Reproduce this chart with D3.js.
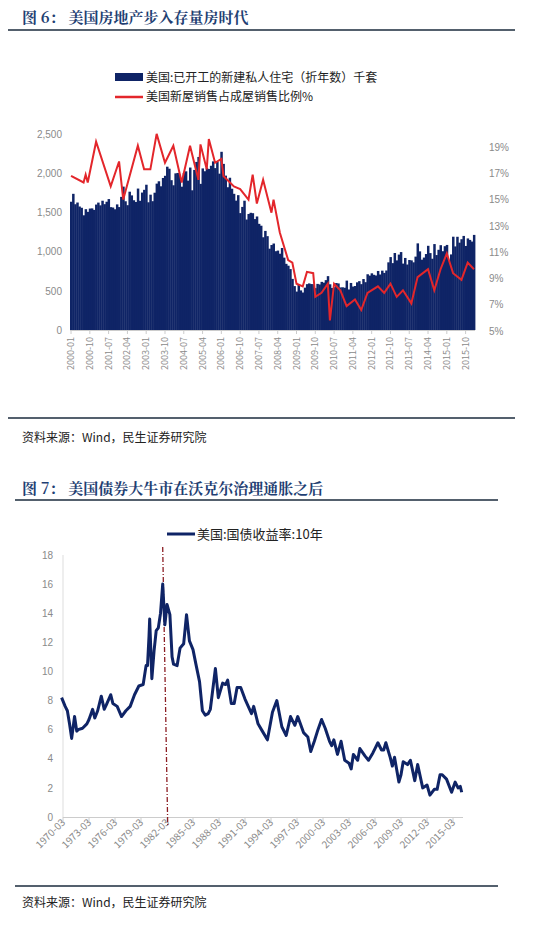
<!DOCTYPE html>
<html><head><meta charset="utf-8">
<script src="https://cdn.jsdelivr.net/npm/d3@7"></script>
<style>
body{margin:0;background:#fff;font-family:"Noto Sans CJK SC","Noto Sans",sans-serif;}
</style></head><body>
<svg id="c" width="533" height="927"></svg>
<script>
// housing starts, thousands, monthly from 2000-01
var startsYears = [2000,2001,2002,2003,2004,2005,2006,2007,2008,2009,2010,2011,2012,2013,2014,2015,2016];
var starts = [
  [1636,1737,1604,1626,1575,1559,1463,1541,1507,1549,1551,1532],
  [1600,1625,1590,1649,1605,1636,1670,1567,1562,1540,1602,1568],
  [1698,1829,1642,1592,1764,1717,1655,1633,1804,1648,1753,1788],
  [1853,1629,1726,1643,1751,1867,1897,1833,1939,1967,2083,2057],
  [1911,1846,1998,2003,1981,1828,2002,2024,1905,2072,1782,2042],
  [2144,2207,1864,2061,2025,2068,2054,2095,2151,2065,2147,1994],
  [2273,2119,1969,1821,1942,1802,1737,1650,1720,1491,1570,1649],
  [1409,1480,1495,1490,1415,1448,1354,1330,1183,1264,1197,1037],
  [1084,1103,1005,1013,973,1046,923,844,820,777,652,560],
  [490,582,505,478,540,585,594,586,585,534,588,581],
  [614,604,636,687,583,536,546,599,594,543,545,539],
  [630,517,600,554,561,608,623,585,650,610,711,694],
  [723,704,695,753,708,757,728,759,863,930,853,982],
  [888,962,994,847,919,835,893,888,863,936,1105,1003],
  [897,924,969,1074,981,909,1096,956,1023,1082,1005,1069],
  [1085,893,964,1190,1066,1189,1114,1158,1200,1072,1168,1149],
  [1128,1213]
];
// new home sales share, % (month index from 2000-01, value)
var shareMonths = [0,6,7,8,12,19,23,25,32,35,38,41,45,49,53,57,61,62,65,66,69,72,73,78,81,85,87,89,92,96,97,100,104,106,108,111,113,116,117,120,123,124,126,129,132,136,139,142,147,150,153,156,159,163,166,171,174,177,180,183,187,190,193];
var shareVals = [16.8,16.3,16.9,16.3,19.4,16.0,17.9,15.0,19.1,17.3,17.3,20.0,17.8,19.1,16.3,19.1,16.5,19.2,17.3,19.6,17.8,18.1,16.8,16.0,15.8,15.0,16.9,14.7,16.5,14.0,15.0,12.5,10.4,10.2,8.6,8.4,9.5,9.4,7.6,7.9,8.6,5.8,8.6,8.1,6.9,7.4,6.6,7.9,8.4,7.9,8.6,7.6,8.1,7.1,9.1,9.7,8.1,9.7,10.9,9.4,8.9,10.2,9.7];
var topTicks = ["2000-01","2000-10","2001-07","2002-04","2003-01","2003-10","2004-07","2005-04","2006-01","2006-10","2007-07","2008-04","2009-01","2009-10","2010-07","2011-04","2012-01","2012-10","2013-07","2014-04","2015-01","2015-10"];
var leftTicks = [0,500,1000,1500,2000,2500];
var rightTicks = [5,7,9,11,13,15,17,19];

// 10y treasury yield
var yDates = ["1970-01","1970-06","1970-09","1970-12","1971-03","1971-07","1971-10","1971-12","1972-06","1972-12","1973-03","1973-08","1973-11","1974-03","1974-08","1974-12","1975-03","1975-09","1975-12","1976-06","1976-12","1977-06","1977-12","1978-06","1978-12","1979-06","1979-10","1979-12","1980-02","1980-03","1980-06","1980-09","1980-12","1981-03","1981-06","1981-09","1981-12","1982-03","1982-07","1982-10","1982-12","1983-05","1983-09","1984-02","1984-06","1984-10","1985-03","1985-07","1985-12","1986-04","1986-08","1986-12","1987-03","1987-10","1988-02","1988-08","1988-12","1989-03","1989-08","1989-12","1990-04","1990-09","1991-03","1991-12","1992-03","1992-09","1993-03","1993-10","1994-05","1994-11","1995-06","1995-12","1996-06","1996-12","1997-04","1997-12","1998-06","1998-10","1999-03","1999-08","2000-01","2000-06","2000-12","2001-03","2001-06","2001-11","2002-04","2002-09","2003-03","2003-06","2003-09","2004-03","2004-06","2005-01","2005-06","2005-12","2006-03","2006-07","2006-12","2007-03","2007-06","2007-12","2008-03","2008-06","2008-12","2009-03","2009-06","2009-12","2010-04","2010-10","2011-02","2011-09","2012-03","2012-07","2013-01","2013-05","2013-09","2013-12","2014-06","2015-01","2015-06","2015-10","2016-01","2016-03"];
var yVals = [8.2,7.6,7.3,6.4,5.4,6.9,5.9,6.0,6.1,6.4,6.7,7.4,6.8,7.3,8.3,7.4,7.7,8.4,7.8,7.6,6.9,7.3,7.6,8.4,9.0,9.1,10.4,10.4,12.4,13.6,9.5,11.4,12.8,13.0,14.0,16.0,13.2,14.6,13.9,11.0,10.5,10.4,11.6,11.9,13.9,12.1,11.5,10.5,9.3,7.3,7.0,7.1,7.4,10.2,8.2,9.2,9.1,9.4,7.8,7.8,8.9,8.9,8.1,7.1,7.6,6.4,5.9,5.3,7.2,8.0,6.2,5.6,6.9,6.3,6.9,5.8,5.5,4.5,5.2,6.0,6.7,6.1,5.2,4.9,5.3,4.3,5.2,3.9,3.7,3.3,4.3,3.9,4.7,4.2,3.9,4.4,4.7,5.1,4.6,4.6,5.1,4.1,3.5,4.1,2.4,2.9,3.8,3.6,3.9,2.5,3.6,2.0,2.2,1.5,1.9,1.9,2.9,2.9,2.6,1.7,2.4,2.0,2.1,1.7];
var botTicks = ["1970-03","1973-03","1976-03","1979-03","1982-03","1985-03","1988-03","1991-03","1994-03","1997-03","2000-03","2003-03","2006-03","2009-03","2012-03","2015-03"];
var botYTicks = [0,2,4,6,8,10,12,14,16,18];
var peakDate = "1981-09";

var svg = d3.select("#c");
var navy = "#0f2466", red = "#e3262b", grey = "#8a8a8a", titleC = "#1f3f73";
var parse = d3.timeParse("%Y-%m");

function header(y, lineY, x1, x2, text) {
  svg.append("text").attr("x", 22).attr("y", y).attr("fill", titleC)
    .style("font-size", "15px").style("font-weight", "bold").style("font-family", "Noto Serif CJK SC,Noto Sans CJK SC")
    .text(text);
  svg.append("line").attr("x1", x1).attr("x2", x2).attr("y1", lineY).attr("y2", lineY)
    .attr("stroke", "#1b2b3c").attr("stroke-width", 1.5);
}
function source(y, lineY, x1, x2) {
  svg.append("line").attr("x1", x1).attr("x2", x2).attr("y1", lineY).attr("y2", lineY)
    .attr("stroke", "#1b2b3c").attr("stroke-width", 1.5);
  svg.append("text").attr("x", 22).attr("y", y).attr("fill", "#222")
    .style("font-size", "12px").text("资料来源：Wind，民生证券研究院");
}

// ---------- figure 6 ----------
header(23, 30, 8, 515, "图 6：  美国房地产步入存量房时代");

svg.append("rect").attr("x", 115).attr("y", 73).attr("width", 28).attr("height", 8).attr("fill", navy);
svg.append("text").attr("x", 146).attr("y", 82).style("font-size", "12px").attr("fill", "#222").text("美国:已开工的新建私人住宅（折年数）千套");
svg.append("line").attr("x1", 115).attr("x2", 143).attr("y1", 97).attr("y2", 97).attr("stroke", red).attr("stroke-width", 2.5);
svg.append("text").attr("x", 146).attr("y", 101).style("font-size", "12px").attr("fill", "#222").text("美国新屋销售占成屋销售比例%");

var nMonths = 0; starts.forEach(function (r) { nMonths += r.length; });
var x6 = d3.scaleLinear().domain([0, nMonths]).range([70, 475]);
var yL = d3.scaleLinear().domain([0, 2500]).range([330, 134]);
var yR = d3.scaleLinear().domain([5, 19]).range([331, 147]);
var bw = x6(1) - x6(0);

var monthly = [];
starts.forEach(function (row, i) { row.forEach(function (v, j) { monthly.push({m: i * 12 + j, v: v}); }); });
svg.append("g").selectAll("rect").data(monthly).join("rect")
  .attr("x", function (d) { return x6(d.m); }).attr("width", bw + 0.4)
  .attr("y", function (d) { return yL(d.v); }).attr("height", function (d) { return yL(0) - yL(d.v); })
  .attr("fill", navy);

var shareData = shareMonths.map(function (m, i) { return [m, shareVals[i]]; });
svg.append("path").datum(shareData)
  .attr("d", d3.line().x(function (d) { return x6(d[0]) + bw / 2; }).y(function (d) { return yR(d[1]); }))
  .attr("fill", "none").attr("stroke", red).attr("stroke-width", 2);

var gl = svg.append("g").attr("transform", "translate(70,0)")
  .call(d3.axisLeft(yL).tickValues(leftTicks).tickFormat(d3.format(",")).tickSize(0).tickPadding(8));
var gr = svg.append("g").attr("transform", "translate(475,0)")
  .call(d3.axisRight(yR).tickValues(rightTicks).tickFormat(function (d) { return d + "%"; }).tickSize(0).tickPadding(14));
[gl, gr].forEach(function (g) {
  g.select(".domain").remove();
  g.selectAll("text").attr("fill", grey).style("font-size", "10px");
});
svg.append("line").attr("x1", 70).attr("x2", 475).attr("y1", 330.5).attr("y2", 330.5).attr("stroke", "#ccc");
var tickM = topTicks.map(function (t) { var p = t.split("-"); return (+p[0] - 2000) * 12 + (+p[1] - 1); });
var gx = svg.append("g");
tickM.forEach(function (m, i) {
  var xx = x6(m) + bw / 2;
  gx.append("line").attr("x1", xx).attr("x2", xx).attr("y1", 330).attr("y2", 334).attr("stroke", "#ccc");
  gx.append("text").attr("transform", "translate(" + (xx + 3) + ",337) rotate(-90)")
    .attr("text-anchor", "end").attr("fill", grey).style("font-size", "9px").text(topTicks[i]);
});
source(442, 418, 8, 515);

// ---------- figure 7 ----------
header(494, 500, 15, 498, "图 7：  美国债券大牛市在沃克尔治理通胀之后");
svg.append("line").attr("x1", 167).attr("x2", 195).attr("y1", 534).attr("y2", 534).attr("stroke", navy).attr("stroke-width", 3);
svg.append("text").attr("x", 197).attr("y", 539).style("font-size", "13px").attr("fill", "#222").text("美国:国债收益率:10年");

var x7 = d3.scaleTime().domain([parse("1970-03"), parse("2015-03")]).range([63, 453]);
var y7 = d3.scaleLinear().domain([0, 18]).range([817, 555]);
svg.append("line").attr("x1", 63).attr("x2", 63).attr("y1", 555).attr("y2", 817).attr("stroke", "#ddd");
svg.append("line").attr("x1", 63).attr("x2", 463).attr("y1", 817.5).attr("y2", 817.5).attr("stroke", "#ccc");
var gy7 = svg.append("g").attr("transform", "translate(63,0)")
  .call(d3.axisLeft(y7).tickValues(botYTicks).tickSize(0).tickPadding(10));
gy7.select(".domain").remove();
gy7.selectAll("text").attr("fill", grey).style("font-size", "10px");
botTicks.forEach(function (t) {
  var xx = x7(parse(t));
  svg.append("line").attr("x1", xx).attr("x2", xx).attr("y1", 817).attr("y2", 821).attr("stroke", "#ccc");
  svg.append("text").attr("transform", "translate(" + (xx + 3) + ",823) rotate(-45)")
    .attr("text-anchor", "end").attr("fill", grey).style("font-size", "10px").text(t);
});
var px = x7(parse(peakDate));
svg.append("line").attr("x1", px).attr("x2", px + 5).attr("y1", 547).attr("y2", 825)
  .attr("stroke", "#8b1c22").attr("stroke-width", 1.3).attr("stroke-dasharray", "5,2,1,2");
var yData = yDates.map(function (d, i) { return [parse(d), yVals[i]]; });
svg.append("path").datum(yData)
  .attr("d", d3.line().x(function (d) { return x7(d[0]); }).y(function (d) { return y7(d[1]); }))
  .attr("fill", "none").attr("stroke", navy).attr("stroke-width", 3).attr("stroke-linejoin", "round");

source(907, 886, 15, 498);
</script>
</body></html>
